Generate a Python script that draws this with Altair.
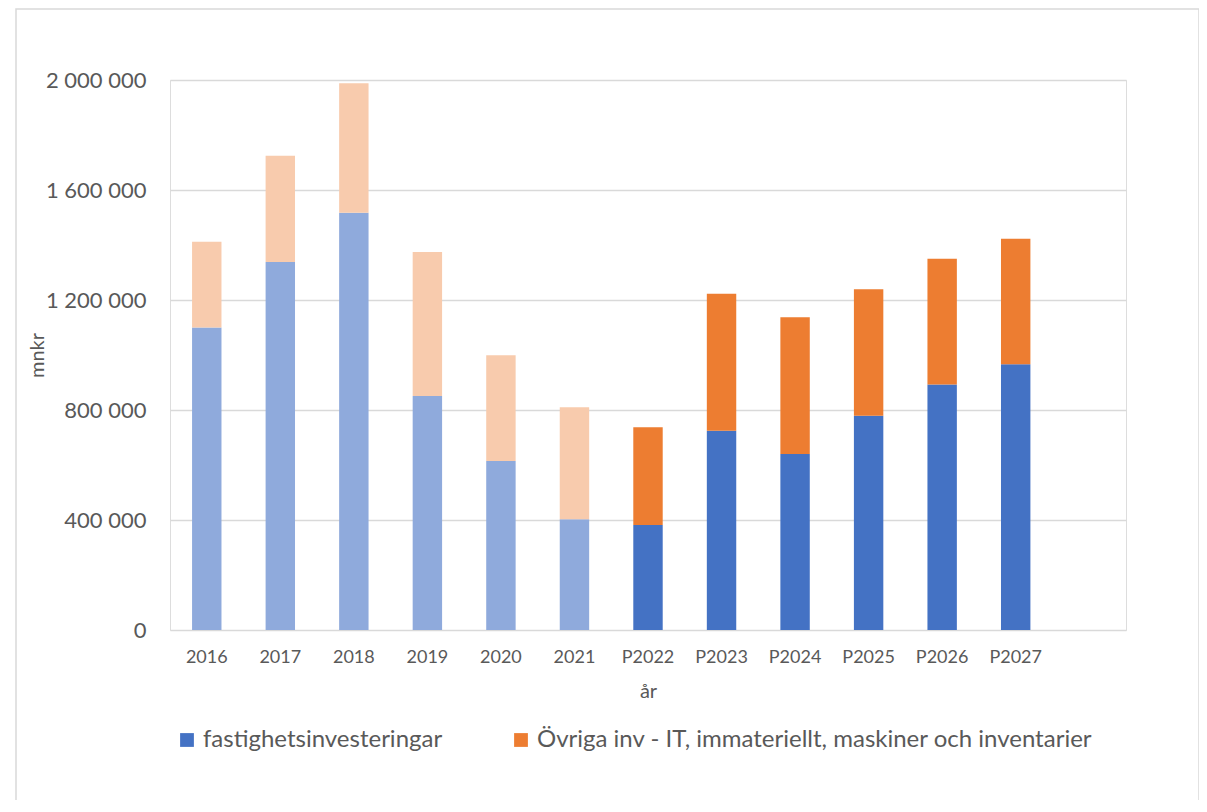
import altair as alt
import pandas as pd

# ---- data (mnkr) ----
years = ["2016", "2017", "2018", "2019", "2020", "2021",
         "P2022", "P2023", "P2024", "P2025", "P2026", "P2027"]
fastighet = [1100000, 1338000, 1517000, 851000, 615000, 403000,
             382000, 725000, 640000, 779000, 893000, 966000]
ovriga = [312000, 387000, 471000, 524000, 384000, 407000,
          355000, 498000, 497000, 460000, 457000, 457000]
is_forecast = [False] * 6 + [True] * 6

s_fast = "fastighetsinvesteringar"
s_ovr = "Övriga inv - IT, immateriellt, maskiner och inventarier"

rows = []
for y, f, o, fc in zip(years, fastighet, ovriga, is_forecast):
    rows.append({"år": y, "serie": s_fast, "value": f, "ord": 0,
                 "key": s_fast if fc else "fast_hist"})
    rows.append({"år": y, "serie": s_ovr, "value": o, "ord": 1,
                 "key": s_ovr if fc else "ovr_hist"})
df = pd.DataFrame(rows)

x_domain = years + [" "]
color_domain = [s_fast, s_ovr, "fast_hist", "ovr_hist"]
color_range = ["#4472C4", "#ED7D31", "#8FAADC", "#F8CBAD"]

FONT = "Lato"
TXT = "#595959"
GRID = "#D9D9D9"

bars = alt.Chart(df).mark_bar().encode(
    x=alt.X("år:N", sort=x_domain,
            scale=alt.Scale(domain=x_domain, paddingInner=0.6, paddingOuter=0.3),
            axis=alt.Axis(title="år", labelAngle=0, ticks=False, domain=False,
                          labelFontSize=18, labelPadding=27, labelBaseline="middle",
                          labelColor=TXT, labelFont=FONT,
                          titleFont=FONT, titleFontSize=20, titleColor=TXT,
                          titleFontWeight="normal", titleY=61, titleBaseline="middle")),
    y=alt.Y("value:Q", stack="zero",
            scale=alt.Scale(domain=[0, 2000000], nice=False),
            axis=alt.Axis(title="mnkr", values=[0, 400000, 800000, 1200000, 1600000, 2000000],
                          labelExpr="replace(replace(format(datum.value, ',d'), ',', ' '), ',', ' ')",
                          ticks=False, domain=False, grid=True, gridColor=GRID, gridWidth=1.5,
                          labelFontSize=22, labelPadding=24, labelColor=TXT, labelFont=FONT,
                          titleFont=FONT, titleFontSize=20, titleColor=TXT,
                          titleFontWeight="normal", titleAngle=-90, titleX=-133, titleY=275,
                          titleAlign="center", titleBaseline="middle")),
    color=alt.Color("key:N",
                    scale=alt.Scale(domain=color_domain, range=color_range),
                    legend=alt.Legend(title=None, values=[s_fast, s_ovr], orient="none",
                                      direction="horizontal", legendX=5, legendY=648,
                                      symbolType="square", symbolSize=190,
                                      symbolStrokeWidth=0, labelFontSize=24,
                                      labelFont=FONT, labelColor=TXT, labelOffset=4,
                                      columnPadding=66, labelLimit=900)),
    order=alt.Order("ord:Q", sort="ascending"),
)

border = alt.Chart(pd.DataFrame({"a": [0]})).mark_rect(
    fillOpacity=0, stroke=GRID, strokeWidth=1.5
).encode(
    x=alt.value(-154), x2=alt.value(1029),
    y=alt.value(-71), y2=alt.value(740),
)

chart = alt.layer(border, bars).properties(
    width=956, height=550,
    autosize=alt.AutoSizeParams(type="none"),
    padding={"left": 162, "top": 72, "right": 73, "bottom": 170},
).configure_view(stroke=None).configure(background="white")

chart.save("out.html", embed_options={"renderer": "svg", "actions": False})
